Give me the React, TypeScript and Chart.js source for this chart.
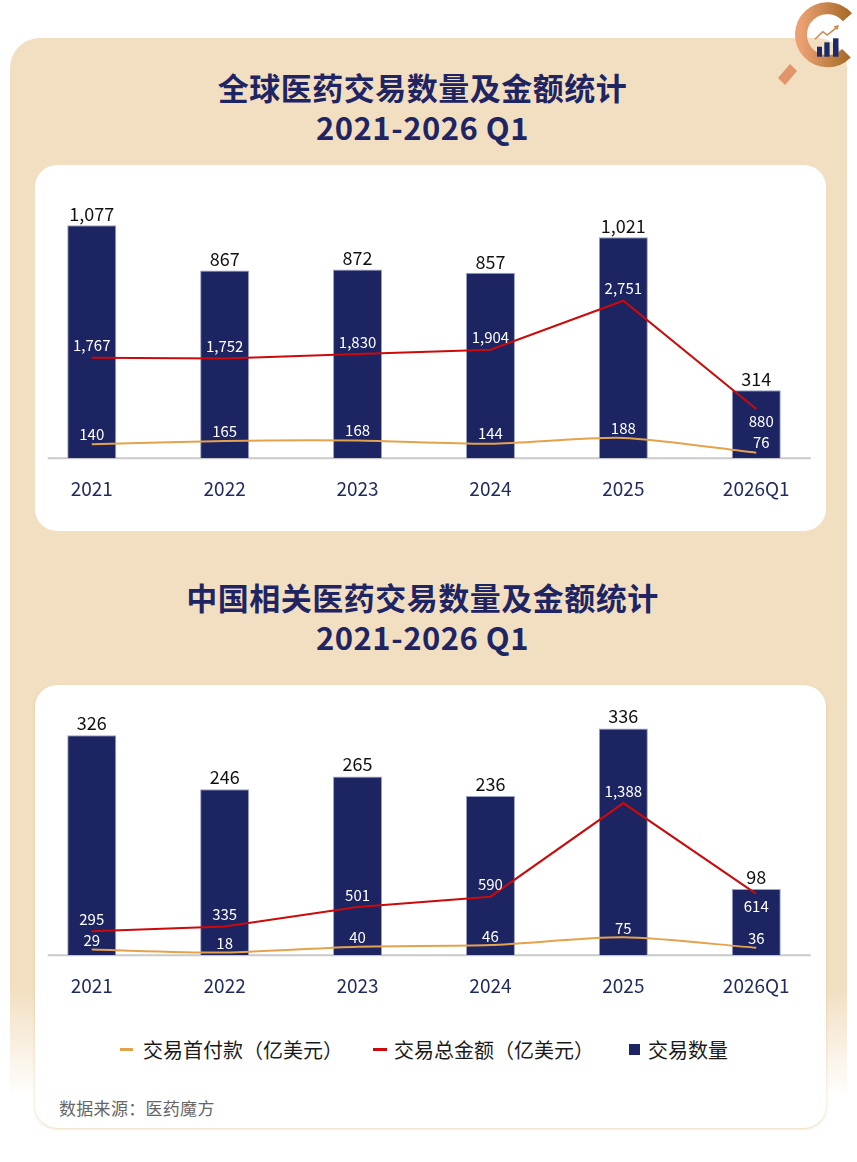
import React, { useEffect, useRef } from 'react';
import { Chart, registerables } from 'chart.js';

Chart.register(...registerables);

// ---------- data ----------
const categories = ['2021', '2022', '2023', '2024', '2025', '2026Q1'];

const globalDealCount = [1077, 867, 872, 857, 1021, 314];
const globalTotalAmount = [1767, 1752, 1830, 1904, 2751, 880];
const globalUpfront = [140, 165, 168, 144, 188, 76];

const chinaDealCount = [326, 246, 265, 236, 336, 98];
const chinaTotalAmount = [295, 335, 501, 590, 1388, 614];
const chinaUpfront = [29, 18, 40, 46, 75, 36];

const legendLabels = ['交易首付款（亿美元）', '交易总金额（亿美元）', '交易数量'];

// ---------- styles ----------
const NAVY = '#1c2461';
const RED = '#cc0a0a';
const ORANGE = '#e4a24c';
const TICK = '#1f2a5e';
const FONT = "'Noto Sans CJK SC', 'Noto Sans', sans-serif";

type Spec = {
  count: number[];
  total: number[];
  upfront: number[];
  countMax: number;
  totalMin: number;
  totalMax: number;
  upMin: number;
  upMax: number;
  padTop: number;
  height: number;
  offCount: number;
  offTotal: number;
  offUp: number;
  totalBelowLast: boolean;
  lastDx: number;
};

const globalSpec: Spec = {
  count: globalDealCount,
  total: globalTotalAmount,
  upfront: globalUpfront,
  countMax: 1170,
  totalMin: 31,
  totalMax: 4404,
  upMin: 35,
  upMax: 1945,
  padTop: 40,
  height: 354,
  offCount: 11,
  offTotal: 12,
  offUp: 10,
  totalBelowLast: true,
  lastDx: 5,
};

const chinaSpec: Spec = {
  count: chinaDealCount,
  total: chinaTotalAmount,
  upfront: chinaUpfront,
  countMax: 371,
  totalMin: 91,
  totalMax: 2224,
  upMin: 8,
  upMax: 947,
  padTop: 20,
  height: 331,
  offCount: 12,
  offTotal: 12,
  offUp: 9,
  totalBelowLast: true,
  lastDx: 0,
};

const baselinePlugin = {
  id: 'baseline',
  beforeDatasetsDraw(chart: any) {
    const { ctx, chartArea } = chart;
    ctx.save();
    ctx.strokeStyle = '#c9c9c9';
    ctx.lineWidth = 2;
    ctx.beginPath();
    ctx.moveTo(chartArea.left + 22.4, chartArea.bottom);
    ctx.lineTo(chartArea.right - 12, chartArea.bottom);
    ctx.stroke();
    ctx.restore();
  },
};

function makeLabelPlugin(spec: Spec) {
  return {
    id: 'valueLabels',
    afterDatasetsDraw(chart: any) {
      const ctx = chart.ctx;
      ctx.save();
      ctx.textAlign = 'center';
      ctx.textBaseline = 'middle';
      chart.data.datasets.forEach((ds: any, di: number) => {
        const meta = chart.getDatasetMeta(di);
        const kind = ds.kind as string;
        meta.data.forEach((el: any, i: number) => {
          const v = ds.data[i] as number;
          const text = v.toLocaleString('en-US');
          const last = i === ds.data.length - 1;
          let x = el.x;
          let y = el.y;
          if (kind === 'count') {
            ctx.fillStyle = '#111111';
            ctx.font = `18px ${FONT}`;
            y -= spec.offCount;
          } else if (kind === 'total') {
            ctx.fillStyle = '#ffffff';
            ctx.font = `15px ${FONT}`;
            if (last && spec.totalBelowLast) {
              y += spec.offTotal;
              x += spec.lastDx;
            } else {
              y -= spec.offTotal;
            }
          } else {
            ctx.fillStyle = '#ffffff';
            ctx.font = `15px ${FONT}`;
            y -= spec.offUp;
            if (last) x += spec.lastDx;
          }
          ctx.fillText(text, x, y);
        });
      });
      ctx.restore();
    },
  };
}

function ComboChart({ spec, top }: { spec: Spec; top: number }) {
  const ref = useRef<HTMLCanvasElement | null>(null);
  useEffect(() => {
    if (!ref.current) return;
    const chart = new Chart(ref.current, {
      type: 'bar',
      data: {
        labels: categories,
        datasets: [
          {
            type: 'line',
            label: legendLabels[0],
            kind: 'upfront',
            data: spec.upfront,
            yAxisID: 'yUp',
            borderColor: ORANGE,
            borderWidth: 2,
            pointRadius: 0,
            tension: 0.25,
            order: 0,
          } as any,
          {
            type: 'line',
            label: legendLabels[1],
            kind: 'total',
            data: spec.total,
            yAxisID: 'yTotal',
            borderColor: RED,
            borderWidth: 2,
            pointRadius: 0,
            tension: 0,
            order: 1,
          } as any,
          {
            type: 'bar',
            label: legendLabels[2],
            kind: 'count',
            data: spec.count,
            yAxisID: 'yCount',
            backgroundColor: NAVY,
            borderColor: 'rgba(130,138,185,0.8)',
            borderWidth: 1,
            categoryPercentage: 1,
            barPercentage: 0.369,
            order: 2,
          } as any,
        ],
      },
      options: {
        responsive: false,
        animation: false,
        layout: { padding: { left: 12.3, right: 20.3, top: spec.padTop, bottom: 0 } },
        plugins: {
          legend: { display: false },
          tooltip: { enabled: false },
        },
        scales: {
          x: {
            grid: { display: false, drawTicks: false },
            border: { display: false },
            ticks: { color: TICK, font: { family: FONT, size: 19 }, padding: 19 },
          },
          yCount: { display: false, min: 0, max: spec.countMax },
          yTotal: { display: false, min: spec.totalMin, max: spec.totalMax },
          yUp: { display: false, min: spec.upMin, max: spec.upMax },
        },
      } as any,
      plugins: [baselinePlugin, makeLabelPlugin(spec)],
    });
    return () => chart.destroy();
  }, [spec]);
  return (
    <canvas
      ref={ref}
      width={830}
      height={spec.height}
      style={{ position: 'absolute', left: 13, top, width: 830, height: spec.height }}
    />
  );
}

function Logo() {
  return (
    <svg width={85} height={90} style={{ position: 'absolute', left: 772, top: 0 }} viewBox="0 0 85 90">
      <defs>
        <linearGradient id="ringGrad" x1="0" y1="0" x2="1" y2="0">
          <stop offset="0%" stopColor="#eba072" />
          <stop offset="100%" stopColor="#a96d2b" />
        </linearGradient>
      </defs>
      <polygon points="6,78 18,64 25,71 13,85" fill="#e3946a" />
      <path d="M 75.5 17.3 A 26.5 26.5 0 1 0 74.5 53.2" fill="none" stroke="url(#ringGrad)" strokeWidth={12} />
      <rect x={45} y={46.7} width={5} height={10} fill="#1c2a6b" />
      <rect x={52.3} y={42.3} width={5.3} height={14.4} fill="#1c2a6b" />
      <rect x={61} y={38.3} width={5.5} height={18.4} fill="#1c2a6b" />
      <polyline points="43,39.3 50.7,31.7 55.3,35 64.7,27.3" fill="none" stroke="#d08a50" strokeWidth={1.6} />
      <polygon points="67,25 61.5,26.3 65.5,30" fill="#d08a50" />
    </svg>
  );
}

const titleStyle: React.CSSProperties = {
  position: 'absolute',
  left: 0,
  width: 845,
  textAlign: 'center',
  fontFamily: FONT,
  fontWeight: 700,
  fontSize: 31,
  lineHeight: '40px',
  letterSpacing: 0.5,
  color: '#1f2563',
};

const legendText: React.CSSProperties = {
  fontFamily: FONT,
  fontSize: 20,
  color: '#1a1a1a',
  whiteSpace: 'nowrap',
};

export default function App() {
  return (
    <div
      style={{
        position: 'absolute',
        left: 0,
        top: 0,
        width: 857,
        height: 1162,
        background: '#ffffff',
        overflow: 'hidden',
      }}
    >
      <div
        style={{
          position: 'absolute',
          left: 10,
          top: 38,
          width: 837,
          height: 1092,
          borderRadius: '30px 30px 0 0',
          background: 'linear-gradient(to bottom, #f2dfc1 0%, #f2dfc1 87%, #ffffff 97%)',
        }}
      />
      <Logo />
      <div style={{ ...titleStyle, top: 67 }}>
        全球医药交易数量及金额统计
        <br />
        2021-2026 Q1
      </div>
      <div
        style={{
          position: 'absolute',
          left: 35,
          top: 165,
          width: 791,
          height: 366,
          background: '#ffffff',
          borderRadius: 22,
        }}
      />
      <ComboChart spec={globalSpec} top={165} />

      <div style={{ ...titleStyle, top: 577 }}>
        中国相关医药交易数量及金额统计
        <br />
        2021-2026 Q1
      </div>
      <div
        style={{
          position: 'absolute',
          left: 35,
          top: 685,
          width: 791,
          height: 443,
          background: '#ffffff',
          borderRadius: 22,
          boxShadow: '0 1px 3px rgba(215,180,130,0.55)',
        }}
      />
      <ComboChart spec={chinaSpec} top={685} />

      <div
        style={{
          position: 'absolute',
          left: 120,
          top: 1035,
          height: 28,
          display: 'flex',
          alignItems: 'center',
        }}
      >
        <span style={{ display: 'inline-block', width: 13, height: 3, background: ORANGE, marginRight: 10 }} />
        <span style={legendText}>{legendLabels[0]}</span>
        <span style={{ display: 'inline-block', width: 14, height: 3, background: RED, marginLeft: 30, marginRight: 7 }} />
        <span style={legendText}>{legendLabels[1]}</span>
        <span style={{ display: 'inline-block', width: 11, height: 11, background: NAVY, marginLeft: 35, marginRight: 8 }} />
        <span style={legendText}>{legendLabels[2]}</span>
      </div>

      <div
        style={{
          position: 'absolute',
          left: 59,
          top: 1097,
          fontFamily: FONT,
          fontSize: 17,
          lineHeight: '22px',
          color: '#666666',
          letterSpacing: 0.3,
        }}
      >
        数据来源：医药魔方
      </div>
    </div>
  );
}
